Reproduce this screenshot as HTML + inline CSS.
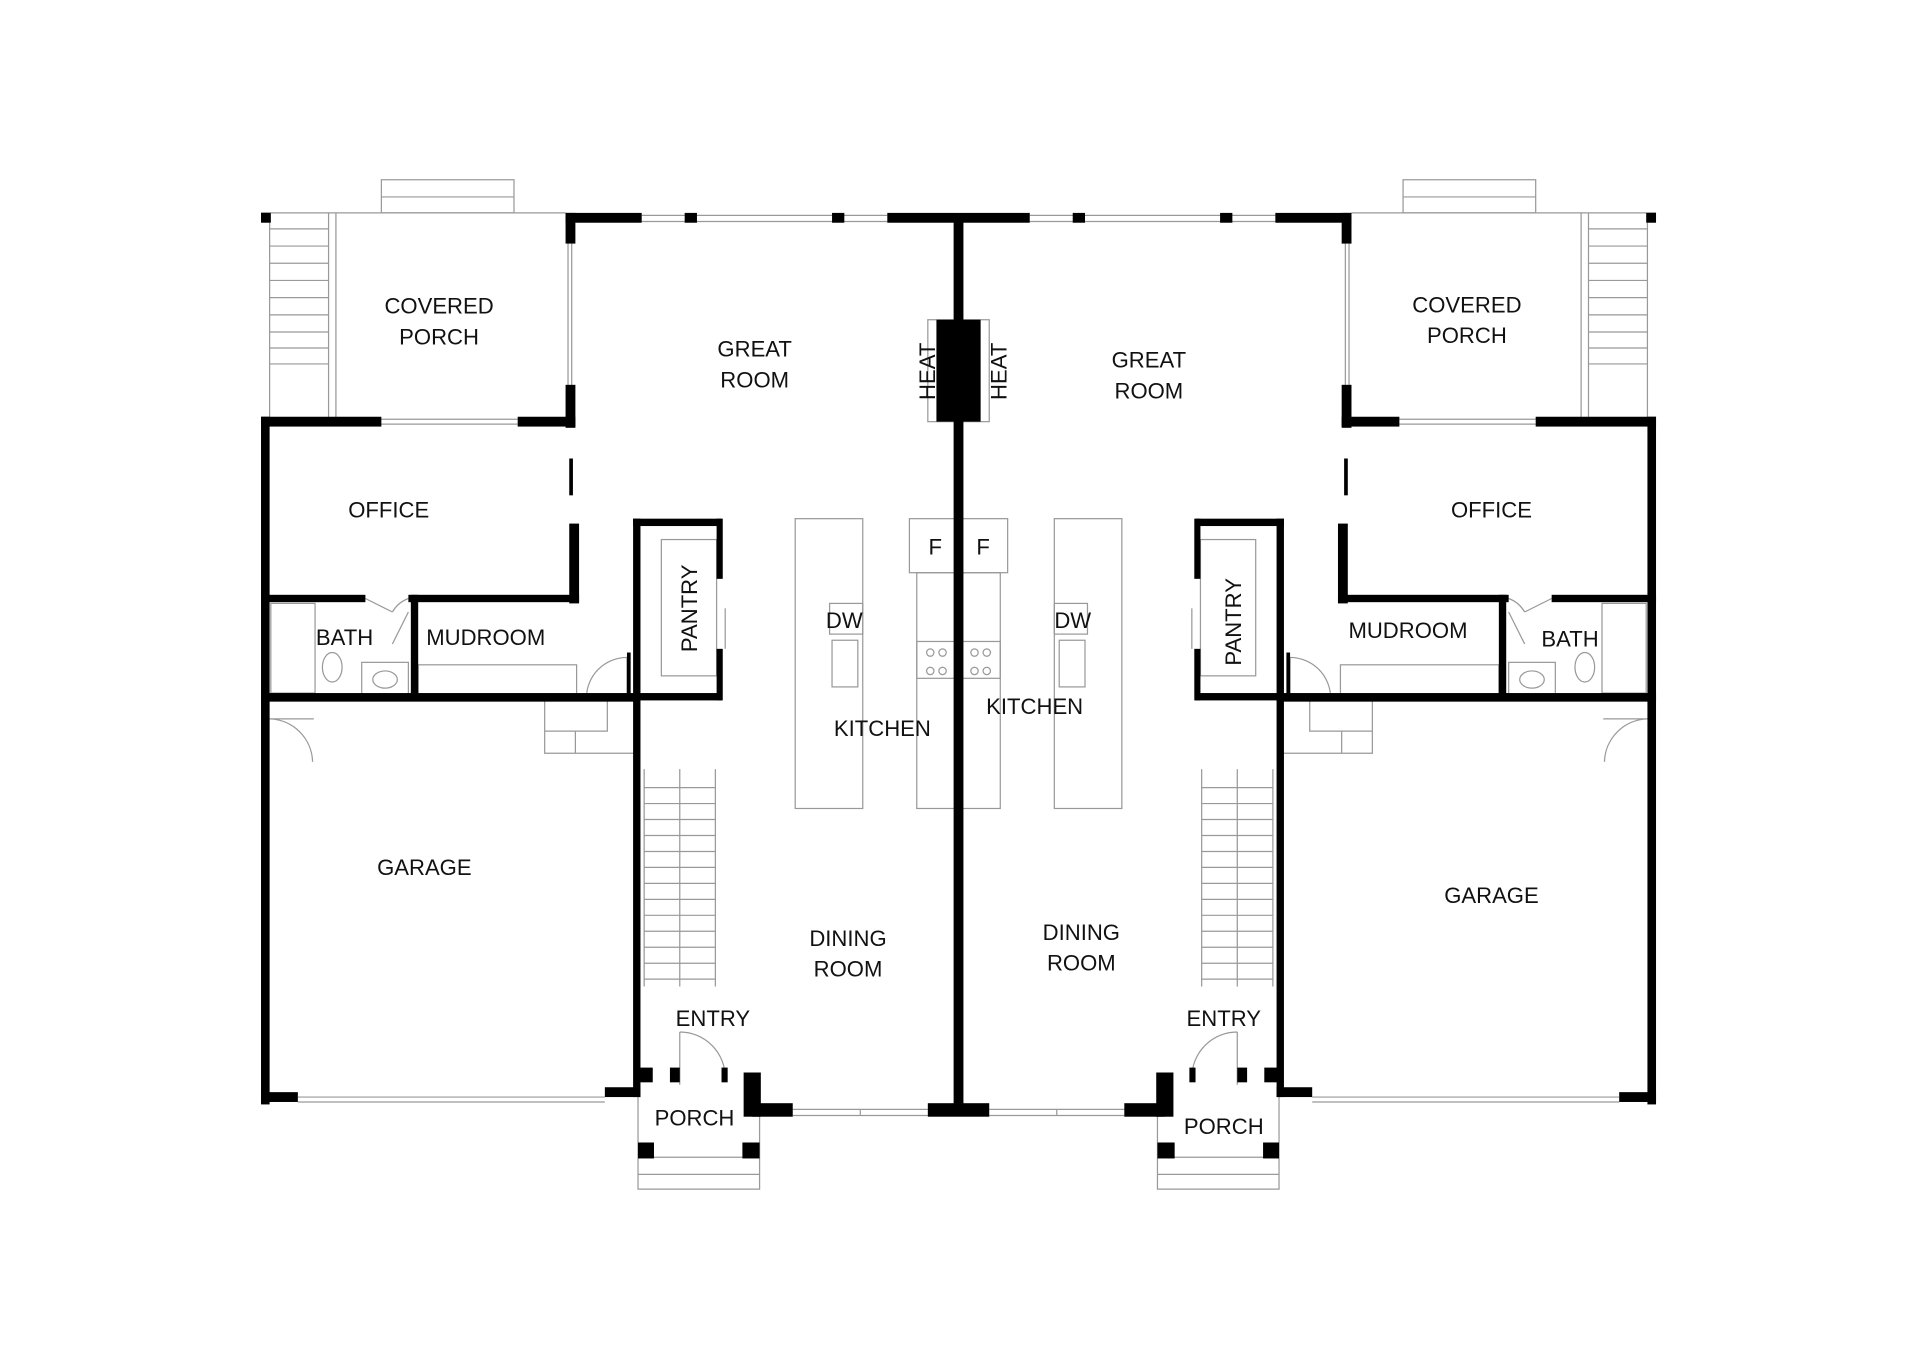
<!DOCTYPE html>
<html><head><meta charset="utf-8"><style>
html,body{margin:0;padding:0;background:#fff;}
svg{display:block}
text{font-family:"Liberation Sans",sans-serif;font-size:18px;fill:#111;text-anchor:middle}
</style></head><body>
<svg width="1920" height="1371" viewBox="0 0 1920 1371" xmlns="http://www.w3.org/2000/svg">
<g transform="translate(-3,-2) scale(1.228)">
<defs>
<g id="half">
 <g fill="none" stroke="#999" stroke-width="1">
  <rect x="313" y="148" width="108" height="27"/><line x1="313" y1="162" x2="421" y2="162"/>
  <line x1="215" y1="175" x2="463" y2="175"/>
  <line x1="222" y1="183" x2="222" y2="342"/><line x1="270" y1="175" x2="270" y2="342"/><line x1="276" y1="175" x2="276" y2="342"/>
  <path d="M222 188H270M222 202H270M222 216H270M222 230H270M222 244H270M222 258H270M222 272H270M222 285H270M222 298H270"/>
  <line x1="465" y1="200" x2="465" y2="315"/><line x1="468" y1="200" x2="468" y2="315"/>
  <line x1="313" y1="343" x2="424" y2="343"/><line x1="313" y1="347" x2="424" y2="347"/>
  <line x1="525" y1="177" x2="725" y2="177"/><line x1="525" y1="182" x2="725" y2="182"/>
  <rect x="541" y="441" width="45" height="111"/>
  <line x1="593" y1="497" x2="593" y2="530"/>
  <rect x="650" y="424" width="55" height="236"/>
  <rect x="749" y="468" width="34" height="192"/>
  <rect x="743" y="424" width="40" height="44"/>
  <rect x="678" y="493" width="27" height="25"/>
  <rect x="680" y="523" width="21" height="38"/>
  <rect x="749" y="524" width="34" height="30"/>
  <circle cx="760" cy="533" r="3"/><circle cx="770" cy="533" r="3"/><circle cx="760" cy="548" r="3"/><circle cx="770" cy="548" r="3"/>
  <rect x="758" y="262" width="25" height="83"/>
  <rect x="223" y="493" width="36" height="73"/>
  <ellipse cx="273" cy="545" rx="8" ry="12"/>
  <rect x="297" y="541" width="38" height="26"/><ellipse cx="316" cy="555" rx="10" ry="7"/>
  <rect x="343" y="543" width="129" height="27"/>
  <path d="M300 489 L322 500 M322 500 A25 25 0 0 1 335 489"/>
  <path d="M322 526 L335 500"/>
  <path d="M480 570 A33 33 0 0 1 513 537 V570"/>
  <path d="M446 570 V615 H520 M446 597 H497 V570 M471 597 V615"/>
  <path d="M222 587 A36 36 0 0 1 257 622 M218 587 H258"/>
  <path d="M556 842 V885 M556 842 A37 37 0 0 1 593 879"/>
  <path d="M527 628 V805 M556 628 V805 M585 628 V805"/>
  <path d="M527 643H585M527 656H585M527 669H585M527 682H585M527 695H585M527 708H585M527 721H585M527 734H585M527 747H585M527 760H585M527 773H585M527 786H585M527 799H585"/>
  <line x1="245" y1="895" x2="495" y2="895"/><line x1="245" y1="899" x2="495" y2="899"/>
  <path d="M522 895 V970 H621 V905 M522 944 H621 M522 958 H621"/>
  <line x1="648" y1="905" x2="758" y2="905"/><line x1="648" y1="910" x2="758" y2="910"/><line x1="703" y1="905" x2="703" y2="910"/>
 </g>
 <g fill="#000">
  <rect x="215" y="175" width="8" height="8"/>
  <rect x="463" y="175" width="62" height="8"/><rect x="560" y="175" width="10" height="8"/><rect x="680" y="175" width="10" height="8"/><rect x="725" y="175" width="58" height="8"/>
  <rect x="463" y="175" width="8" height="25"/><rect x="463" y="315" width="8" height="35"/>
  <rect x="215" y="341" width="98" height="8"/><rect x="424" y="341" width="47" height="8"/>
  <rect x="215" y="341" width="7" height="560"/>
  <rect x="466" y="375" width="3" height="30"/><rect x="466" y="428" width="8" height="65"/>
  <rect x="215" y="486" width="85" height="6"/><rect x="335" y="486" width="139" height="6"/>
  <rect x="337" y="486" width="6" height="84"/>
  <rect x="215" y="566" width="305" height="7"/>
  <rect x="513" y="533" width="3" height="37"/>
  <rect x="518" y="424" width="72" height="6"/>
  <rect x="518" y="424" width="6" height="148"/>
  <rect x="518" y="566" width="72" height="6"/>
  <rect x="586" y="424" width="5" height="49"/><rect x="586" y="530" width="5" height="42"/>
  <rect x="518" y="570" width="6" height="325"/>
  <rect x="215" y="891" width="30" height="8"/><rect x="495" y="887" width="29" height="8"/>
  <rect x="522" y="871" width="12" height="12"/>
  <rect x="548" y="871" width="8" height="12"/><rect x="590" y="871" width="5" height="12"/>
  <rect x="608" y="875" width="14" height="36"/><rect x="615" y="900" width="33" height="11"/>
  <rect x="522" y="932" width="13" height="13"/><rect x="607" y="932" width="14" height="13"/>
  <rect x="758" y="900" width="25" height="11"/>
  <rect x="779" y="179" width="6" height="731"/>
  <rect x="765" y="262" width="18" height="83"/>
 </g>
</g>
</defs>
<use href="#half"/>
<use href="#half" transform="translate(1566,0) scale(-1,1)"/>
<g>
<text x="360" y="257">COVERED</text><text x="360" y="282">PORCH</text>
<text x="617" y="292">GREAT</text><text x="617" y="317">ROOM</text>
<text x="319" y="423">OFFICE</text>
<text x="283" y="527">BATH</text>
<text x="398" y="527">MUDROOM</text>
<text x="690" y="513">DW</text>
<text x="721" y="601">KITCHEN</text>
<text x="764" y="453">F</text><text x="803" y="453">F</text>
<text x="348" y="714">GARAGE</text>
<text x="693" y="772">DINING</text><text x="693" y="797">ROOM</text>
<text x="583" y="837">ENTRY</text>
<text x="568" y="918">PORCH</text>
<text transform="translate(570,497) rotate(-90)">PANTRY</text>
<text transform="translate(764,304) rotate(-90)">HEAT</text>
<text transform="translate(822,304) rotate(-90)">HEAT</text>
<text x="1197" y="256">COVERED</text><text x="1197" y="281">PORCH</text>
<text x="938" y="301">GREAT</text><text x="938" y="326">ROOM</text>
<text x="1217" y="423">OFFICE</text>
<text x="1281" y="528">BATH</text>
<text x="1149" y="521">MUDROOM</text>
<text x="876" y="513">DW</text>
<text x="845" y="583">KITCHEN</text>
<text x="1217" y="737">GARAGE</text>
<text x="883" y="767">DINING</text><text x="883" y="792">ROOM</text>
<text x="999" y="837">ENTRY</text>
<text x="999" y="925">PORCH</text>
<text transform="translate(1013,508) rotate(-90)">PANTRY</text>
</g>
</g>
</svg>
</body></html>
